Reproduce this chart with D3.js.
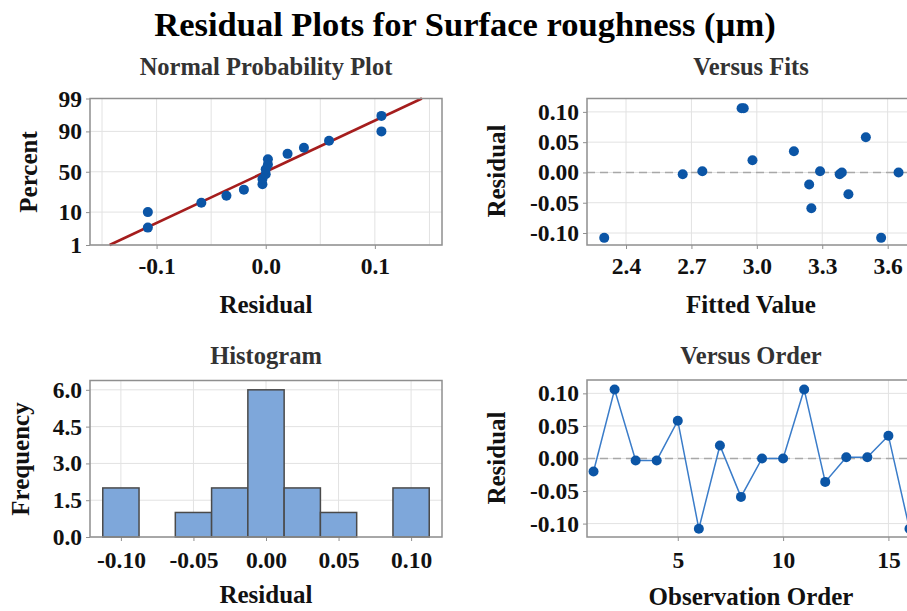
<!DOCTYPE html>
<html lang="en">
  <meta charset="utf-8">
  <title>Residual Plots for Surface roughness</title>

  <style>
  body {
    margin: 0px;
    background: #ffffff;
  }
  svg text {
    font-family: "Liberation Serif", "Times New Roman", serif;
    font-weight: bold;
  }
  .frame {
    fill: none;
    stroke: #8f8f8f;
    stroke-width: 1.5;
  }
  .grid line {
    stroke: #e2e2e2;
    stroke-width: 1;
  }
  .axis path {
    display: none;
  }
  .axis line {
    stroke: #8f8f8f;
  }
  .axis text {
    font-size: 23.5px;
    fill: #111111;
  }
  .panelTitle {
    font-size: 24.5px;
    fill: #333333;
  }
  .axisTitle {
    font-size: 25px;
    fill: #111111;
  }
  </style>

  <body>
  <div id="chartDiv"></div>

    <script src="https://cdn.jsdelivr.net/npm/d3@7"></script>

    <script>
      // Residuals in observation order, with the fitted value of each observation.
      const observationOrder = [1, 2, 3, 4, 5, 6, 7, 8, 9, 10, 11, 12, 13, 14, 15, 16];
      const residuals = [-0.020, 0.106, -0.003, -0.003, 0.058, -0.108, 0.020, -0.059,
                         0.000, 0.000, 0.106, -0.036, 0.002, 0.002, 0.035, -0.108];
      const fittedValues = [3.24, 2.93, 2.66, 3.38, 3.50, 2.30, 2.98, 3.25,
                            3.39, 3.65, 2.94, 3.42, 2.75, 3.29, 3.17, 3.57];

      // Normal probability plot: percent for each sorted residual, and the fitted line.
      const probPercent = [3.8, 10.0, 16.2, 22.3, 28.5, 34.6, 40.8, 46.9,
                           53.1, 59.2, 65.4, 71.5, 77.7, 83.8, 90.0, 96.2];
      const fitMean = 0.0;
      const fitSigma = 0.0615;
      const percentTicks = [1, 10, 50, 90, 99];

      // Histogram bins (centre of bin) and counts.
      const binCenters = [-0.100, -0.075, -0.050, -0.025, 0.000, 0.025, 0.050, 0.075, 0.100];
      const binCounts = [2, 0, 1, 2, 6, 2, 1, 0, 2];
      const binWidth = 0.025;

      // Tick values.
      const npResidualTicks = [-0.1, 0.0, 0.1];
      const npResidualGrid = [-0.15, -0.1, -0.05, 0.0, 0.05, 0.1, 0.15];
      const residualTicks = [-0.10, -0.05, 0.00, 0.05, 0.10];
      const fitTicks = [2.4, 2.7, 3.0, 3.3, 3.6];
      const frequencyTicks = [0.0, 1.5, 3.0, 4.5, 6.0];
      const orderTicks = [5, 10, 15];

      const pointColor = "#0b55a6";
      const lineColor = "#3a7cc9";
      const fitLineColor = "#a51d1d";

      // Inverse of the standard normal CDF (Acklam's approximation), for the probability axis.
      function probit(p)
      {
        let a = [-3.969683028665376e+01, 2.209460984245205e+02, -2.759285104469687e+02,
                 1.383577518672690e+02, -3.066479806614716e+01, 2.506628277459239e+00];
        let b = [-5.447609879822406e+01, 1.615858368580409e+02, -1.556989798598866e+02,
                 6.680131188771972e+01, -1.328068155288572e+01];
        let c = [-7.784894002430293e-03, -3.223964580411365e-01, -2.400758277161838e+00,
                 -2.549671010269880e+00, 4.374664141464968e+00, 2.938163982698783e+00];
        let d = [7.784695709041462e-03, 3.224671290700398e-01, 2.445134137142996e+00,
                 3.754408661907416e+00];
        let pLow = 0.02425;
        let q, r;
        if (p < pLow) {
          q = Math.sqrt(-2 * Math.log(p));
          return (((((c[0]*q+c[1])*q+c[2])*q+c[3])*q+c[4])*q+c[5]) /
                 ((((d[0]*q+d[1])*q+d[2])*q+d[3])*q+1);
        }
        if (p > 1 - pLow) {
          q = Math.sqrt(-2 * Math.log(1 - p));
          return -(((((c[0]*q+c[1])*q+c[2])*q+c[3])*q+c[4])*q+c[5]) /
                  ((((d[0]*q+d[1])*q+d[2])*q+d[3])*q+1);
        }
        q = p - 0.5;
        r = q * q;
        return (((((a[0]*r+a[1])*r+a[2])*r+a[3])*r+a[4])*r+a[5])*q /
               (((((b[0]*r+b[1])*r+b[2])*r+b[3])*r+b[4])*r+1);
      }

      var svg = d3.select("#chartDiv").append("svg")
        .attr("width", 907).attr("height", 611);

      svg.append("text")
        .attr("x", 465).attr("y", 36)
        .attr("text-anchor", "middle")
        .style("font-size", "34.5px")
        .text("Residual Plots for Surface roughness (\u00b5m)");

      // Draws gridlines, bottom and left axes for a panel.
      function DrawAxes(xScale, yScale, opts)
      {
        let [x0, x1] = xScale.range();
        let [y0, y1] = yScale.range();

        let grid = svg.append("g").attr("class", "grid");
        grid.selectAll(".gx").data(opts.xGrid).join("line")
          .attr("x1", d => xScale(d)).attr("x2", d => xScale(d))
          .attr("y1", y0).attr("y2", y1);
        grid.selectAll(".gy").data(opts.yGrid).join("line")
          .attr("x1", x0).attr("x2", x1)
          .attr("y1", d => yScale(d)).attr("y2", d => yScale(d));

        svg.append("g").attr("class", "axis")
          .attr("transform", "translate(0," + y0 + ")")
          .call(d3.axisBottom(xScale).tickValues(opts.xTicks).tickFormat(opts.xFormat)
            .tickSizeInner(4).tickSizeOuter(0).tickPadding(opts.xPad));

        svg.append("g").attr("class", "axis")
          .attr("transform", "translate(" + x0 + ",0)")
          .call(d3.axisLeft(yScale).tickValues(opts.yTicks).tickFormat(opts.yFormat)
            .tickSizeInner(4).tickSizeOuter(0).tickPadding(4));
      }

      function DrawFrame(xScale, yScale)
      {
        let [x0, x1] = xScale.range();
        let [y0, y1] = yScale.range();
        svg.append("rect").attr("class", "frame")
          .attr("x", x0).attr("y", y1)
          .attr("width", x1 - x0).attr("height", y0 - y1);
      }

      function PanelTitle(x, y, label)
      {
        svg.append("text").attr("class", "panelTitle")
          .attr("x", x).attr("y", y).attr("text-anchor", "middle").text(label);
      }

      function AxisTitle(x, y, label, rotate)
      {
        svg.append("text").attr("class", "axisTitle")
          .attr("text-anchor", "middle")
          .attr("transform", "translate(" + x + "," + y + ")" + (rotate ? " rotate(-90)" : ""))
          .text(label);
      }

      function ZeroLine(xScale, yScale)
      {
        let [x0, x1] = xScale.range();
        svg.append("line")
          .attr("x1", x0).attr("x2", x1)
          .attr("y1", yScale(0)).attr("y2", yScale(0))
          .attr("stroke", "#a8a8a8").attr("stroke-width", 1.5)
          .attr("stroke-dasharray", "8,5");
      }

      let fmt1 = d => d.toFixed(1);
      let fmt2 = d => d.toFixed(2);

      // ---- Normal Probability Plot ----
      let npX = d3.scaleLinear().domain([-0.161, 0.1615]).range([90, 442]);
      let npY = d3.scaleLinear().domain([probit(0.01), probit(0.99)]).range([245, 98.5]);
      DrawAxes(npX, npY, {
        xGrid: npResidualGrid, yGrid: percentTicks.map(p => probit(p / 100)),
        xTicks: npResidualTicks, xFormat: fmt1, xPad: 8,
        yTicks: percentTicks.map(p => probit(p / 100)),
        yFormat: (d, i) => percentTicks[i]
      });
      svg.append("line")
        .attr("x1", npX(fitMean + fitSigma * probit(0.01))).attr("y1", npY(probit(0.01)))
        .attr("x2", npX(fitMean + fitSigma * probit(0.99))).attr("y2", npY(probit(0.99)))
        .attr("stroke", fitLineColor).attr("stroke-width", 2.5);
      let sortedResiduals = residuals.slice().sort(d3.ascending);
      svg.append("g").selectAll("circle").data(sortedResiduals).join("circle")
        .attr("cx", d => npX(d))
        .attr("cy", (d, i) => npY(probit(probPercent[i] / 100)))
        .attr("r", 5).attr("fill", pointColor);
      DrawFrame(npX, npY);
      PanelTitle(266, 75, "Normal Probability Plot");
      AxisTitle(266, 313, "Residual", false);
      AxisTitle(37, 172, "Percent", true);

      // ---- Versus Fits ----
      let vfX = d3.scaleLinear().domain([2.221, 3.73]).range([587, 916]);
      let vfY = d3.scaleLinear().domain([-0.1198, 0.1221]).range([245, 98.5]);
      DrawAxes(vfX, vfY, {
        xGrid: fitTicks, yGrid: residualTicks,
        xTicks: fitTicks, xFormat: fmt1, xPad: 8,
        yTicks: residualTicks, yFormat: fmt2
      });
      ZeroLine(vfX, vfY);
      svg.append("g").selectAll("circle").data(residuals).join("circle")
        .attr("cx", (d, i) => vfX(fittedValues[i]))
        .attr("cy", d => vfY(d))
        .attr("r", 5).attr("fill", pointColor);
      DrawFrame(vfX, vfY);
      PanelTitle(751, 75, "Versus Fits");
      AxisTitle(751, 313, "Fitted Value", false);
      AxisTitle(505, 171, "Residual", true);

      // ---- Histogram ----
      let hX = d3.scaleLinear().domain([-0.1213, 0.1213]).range([90, 442]);
      let hY = d3.scaleLinear().domain([0, 6.38]).range([537, 380.5]);
      DrawAxes(hX, hY, {
        xGrid: residualTicks, yGrid: frequencyTicks,
        xTicks: residualTicks, xFormat: fmt2, xPad: 10,
        yTicks: frequencyTicks, yFormat: fmt1
      });
      svg.append("g").selectAll("rect").data(binCenters).join("rect")
        .filter((d, i) => binCounts[i] > 0)
        .attr("x", d => hX(d - binWidth / 2))
        .attr("width", d => hX(d + binWidth / 2) - hX(d - binWidth / 2))
        .attr("y", d => hY(binCounts[binCenters.indexOf(d)]))
        .attr("height", d => hY(0) - hY(binCounts[binCenters.indexOf(d)]))
        .attr("fill", "#7ea7da").attr("stroke", "#4a4a4a").attr("stroke-width", 1.5);
      DrawFrame(hX, hY);
      PanelTitle(266, 364, "Histogram");
      AxisTitle(266, 603, "Residual", false);
      AxisTitle(29, 459, "Frequency", true);

      // ---- Versus Order ----
      let voX = d3.scaleLinear().domain([0.69, 16.31]).range([587, 916]);
      let voY = d3.scaleLinear().domain([-0.1206, 0.1205]).range([537, 380]);
      DrawAxes(voX, voY, {
        xGrid: orderTicks, yGrid: residualTicks,
        xTicks: orderTicks, xFormat: d => d, xPad: 10,
        yTicks: residualTicks, yFormat: fmt2
      });
      ZeroLine(voX, voY);
      svg.append("path").datum(residuals)
        .attr("d", d3.line().x((d, i) => voX(observationOrder[i])).y(d => voY(d)))
        .attr("fill", "none").attr("stroke", lineColor).attr("stroke-width", 1.5);
      svg.append("g").selectAll("circle").data(residuals).join("circle")
        .attr("cx", (d, i) => voX(observationOrder[i]))
        .attr("cy", d => voY(d))
        .attr("r", 5).attr("fill", pointColor);
      DrawFrame(voX, voY);
      PanelTitle(751, 364, "Versus Order");
      AxisTitle(751, 605, "Observation Order", false);
      AxisTitle(505, 458, "Residual", true);
    </script>
  </body>
</html>
